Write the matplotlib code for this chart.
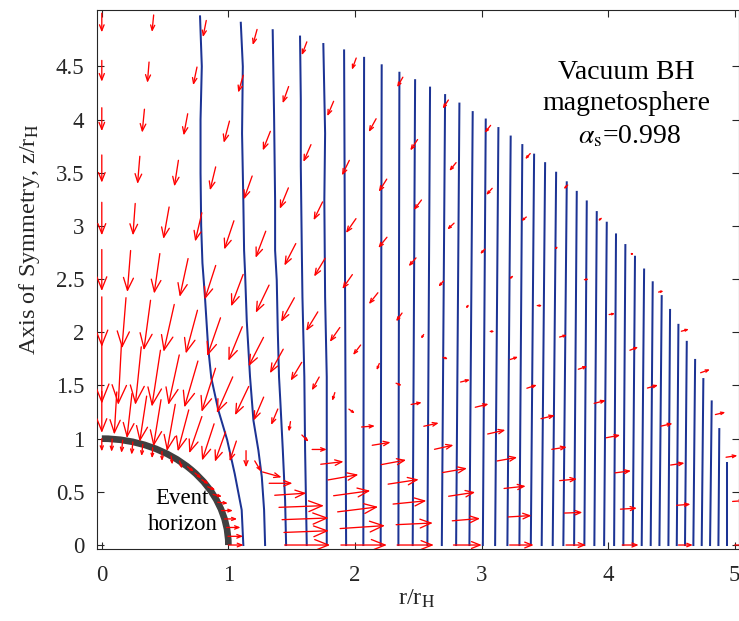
import numpy as np
import matplotlib
matplotlib.use("Agg")
import matplotlib.pyplot as plt
from matplotlib.patches import Arc, FancyArrowPatch

plt.rcParams["font.family"] = "Liberation Serif"
plt.rcParams["mathtext.fontset"] = "stix"

# ── Field lines close to the hole, traced as (r, z) points ───────────────────
near_lines = [
    [(0.776, 4.97), (0.79, 4.5), (0.78, 4.0), (0.78, 3.5), (0.785, 3.0), (0.795, 2.65),
     (0.815, 2.33), (0.84, 1.86), (0.865, 1.57), (0.92, 1.27), (0.99, 0.99),
     (1.05, 0.67), (1.105, 0.33), (1.118, 0.0)],
    [(1.098, 4.91), (1.114, 4.50), (1.108, 3.87), (1.118, 3.24), (1.124, 2.77),
     (1.132, 2.55), (1.145, 2.11), (1.171, 1.58), (1.198, 1.17), (1.237, 0.89),
     (1.264, 0.64), (1.282, 0.33), (1.29, 0.0)],
    [(1.35, 4.84), (1.361, 4.03), (1.369, 3.24), (1.369, 2.77), (1.382, 2.49),
     (1.39, 2.02), (1.40, 1.58), (1.41, 1.36), (1.43, 0.89), (1.448, 0.42), (1.456, 0.0)],
    [(1.566, 4.78), (1.572, 4.19), (1.572, 3.56), (1.58, 2.77), (1.585, 2.33),
     (1.60, 1.58), (1.606, 0.89), (1.619, 0.0)],
    [(1.75, 4.71), (1.764, 3.87), (1.758, 3.24), (1.764, 2.33), (1.777, 1.58), (1.777, 0.0)],
]

# ── Outer field lines: nearly straight, from the equator up to r = 5 ─────────
far_x_bottom = [1.93, 2.066, 2.203, 2.343, 2.456, 2.572, 2.686, 2.799, 2.904, 3.01,
                3.107, 3.204, 3.299, 3.389, 3.475, 3.562, 3.646, 3.731, 3.812, 3.891,
                3.968, 4.047, 4.12, 4.194, 4.265, 4.336, 4.405, 4.476, 4.542, 4.607,
                4.673, 4.739, 4.805, 4.871, 4.937]
far_x_top = [1.914, 2.072, 2.211, 2.351, 2.475, 2.593, 2.712, 2.825, 2.93, 3.033,
             3.133, 3.23, 3.322, 3.415, 3.502, 3.589, 3.673, 3.752, 3.831, 3.91,
             3.989, 4.062, 4.136, 4.212, 4.284, 4.352, 4.423, 4.489, 4.555, 4.621,
             4.687, 4.752, 4.818, 4.878, 4.937]
far_z_top = [4.65, 4.58, 4.51, 4.44, 4.37, 4.30, 4.23, 4.15, 4.07, 4.0,
             3.92, 3.84, 3.76, 3.67, 3.59, 3.50, 3.41, 3.32, 3.23, 3.13,
             3.03, 2.92, 2.82, 2.71, 2.59, 2.47, 2.34, 2.21, 2.07, 1.91,
             1.74, 1.56, 1.35, 1.09, 0.77]

# ── Electric field sample grid (radius, polar angle from the axis in deg) ────
R_levels = [1.0, 1.444, 1.889, 2.333, 2.778, 3.222, 3.667, 4.111, 4.556, 5.0]
theta_deg = [0, 4.7, 9.5, 14.2, 18.9, 23.7, 28.4, 33.2, 37.9, 42.6,
             47.4, 52.1, 56.8, 61.6, 66.3, 71.1, 75.8, 80.5, 85.3, 90]

# arrow components (dr, dz), one row per radius
arrow_u = [
    [0, -0.005, -0.01, -0.01, -0.01, -0.005, 0.0, 0.01, 0.02, 0.05,
     0.05, 0.055, 0.06, 0.07, 0.08, 0.09, 0.10, 0.11, 0.12, 0.12],
    [0, -0.02, -0.04, -0.055, -0.06, -0.066, -0.087, -0.10, -0.095, -0.084,
     -0.053, 0.0, 0.05, 0.15, 0.184, 0.25, 0.355, 0.368, 0.355, 0.36],
    [0, -0.025, -0.047, -0.068, -0.086, -0.107, -0.11, -0.126, -0.108, -0.079,
     -0.053, -0.013, 0.053, 0.116, 0.18, 0.24, 0.29, 0.32, 0.355, 0.363],
    [0, -0.032, -0.053, -0.084, -0.092, -0.105, -0.11, -0.118, -0.105, -0.087,
     -0.058, -0.021, 0.047, 0.105, 0.145, 0.197, 0.242, 0.263, 0.29, 0.29],
    [0, -0.026, -0.045, -0.066, -0.087, -0.095, -0.105, -0.105, -0.092, -0.079,
     -0.06, -0.021, 0.045, 0.084, 0.118, 0.15, 0.192, 0.21, 0.22, 0.224],
    [0, -0.018, -0.045, -0.053, -0.076, -0.08, -0.09, -0.087, -0.079, -0.071,
     -0.047, -0.021, 0.04, 0.074, 0.105, 0.14, 0.158, 0.171, 0.184, 0.19],
    [0, -0.018, -0.032, -0.045, -0.066, -0.068, -0.071, -0.079, -0.068, -0.058,
     -0.04, -0.018, 0.034, 0.063, 0.079, 0.11, 0.118, 0.137, 0.142, 0.158],
    [0, -0.018, -0.032, -0.045, -0.06, -0.06, -0.058, -0.063, -0.06, -0.053,
     -0.037, -0.026, 0.04, 0.058, 0.071, 0.092, 0.11, 0.126, 0.13, 0.13],
    [0, -0.013, -0.03, -0.04, -0.047, -0.05, -0.058, -0.058, -0.053, -0.047,
     -0.04, -0.02, 0.035, 0.047, 0.066, 0.084, 0.092, 0.11, 0.11, 0.113],
    [0, -0.013, -0.026, -0.034, -0.04, -0.034, -0.045, -0.045, -0.045, -0.04,
     -0.032, -0.026, 0.02, 0.04, 0.06, 0.074, 0.079, 0.09, 0.095, 0.10],
]
arrow_v = [
    [-0.12, -0.12, -0.12, -0.12, -0.11, -0.10, -0.09, -0.08, -0.07, -0.045,
     -0.05, -0.04, -0.03, -0.02, -0.01, 0.0, 0.0, 0.0, 0.0, 0.0],
    [-0.39, -0.40, -0.42, -0.43, -0.44, -0.44, -0.39, -0.345, -0.345, -0.28,
     -0.19, -0.157, -0.10, -0.05, 0.0, 0.02, 0.016, 0.016, 0.016, 0.0],
    [-0.56, -0.565, -0.545, -0.53, -0.47, -0.436, -0.41, -0.34, -0.27, -0.22,
     -0.15, -0.094, -0.063, 0.0, 0.025, 0.05, 0.047, 0.047, 0.028, 0.0],
    [-0.47, -0.476, -0.47, -0.445, -0.407, -0.36, -0.32, -0.272, -0.226, -0.172,
     -0.125, -0.078, -0.04, 0.01, 0.028, 0.044, 0.044, 0.031, 0.016, 0.0],
    [-0.39, -0.39, -0.376, -0.36, -0.32, -0.30, -0.26, -0.226, -0.18, -0.135,
     -0.094, -0.063, -0.022, 0.019, 0.031, 0.04, 0.04, 0.038, 0.022, 0.0],
    [-0.31, -0.30, -0.30, -0.27, -0.27, -0.25, -0.207, -0.172, -0.135, -0.107,
     -0.078, -0.04, -0.016, 0.022, 0.031, 0.038, 0.034, 0.022, 0.013, 0.0],
    [-0.26, -0.26, -0.245, -0.22, -0.22, -0.197, -0.172, -0.135, -0.10, -0.078,
     -0.053, -0.03, 0.0, 0.025, 0.031, 0.031, 0.022, 0.016, 0.006, 0.0],
    [-0.22, -0.22, -0.204, -0.204, -0.18, -0.163, -0.141, -0.119, -0.094, -0.06,
     -0.047, -0.025, 0.0, 0.019, 0.028, 0.028, 0.025, 0.019, 0.01, 0.0],
    [-0.20, -0.195, -0.17, -0.163, -0.157, -0.14, -0.125, -0.103, -0.078, -0.063,
     -0.038, -0.02, 0.005, 0.01, 0.031, 0.028, 0.025, 0.019, 0.01, 0.0],
    [-0.18, -0.16, -0.157, -0.147, -0.125, -0.11, -0.094, -0.081, -0.069, -0.053,
     -0.038, -0.025, 0.0, 0.01, 0.02, 0.031, 0.022, 0.016, 0.008, 0.0],
]

xtick_vals = [0, 1, 2, 3, 4, 5]
xtick_labels = ["0", "1", "2", "3", "4", "5"]
ytick_vals = [0, 0.5, 1, 1.5, 2, 2.5, 3, 3.5, 4, 4.5]
ytick_labels = ["0", "0.5", "1", "1.5", "2", "2.5", "3", "3.5", "4", "4.5"]

LINE_BLUE = "#1c3394"
AX_GREY = "#262626"

fig = plt.figure(figsize=(7.39, 6.21), dpi=100)
ax = fig.add_axes([0.1309, 0.1155, 0.869, 0.8684])
ax.set_xlim(-0.04, 5.033)
ax.set_ylim(-0.04, 5.03)

# field lines
for pts in near_lines:
    r, z = zip(*pts)
    ax.plot(r, z, color=LINE_BLUE, lw=1.45, zorder=2)
for xb, xt, zt in zip(far_x_bottom, far_x_top, far_z_top):
    ax.plot([xb, xt], [0.0, zt], color=LINE_BLUE, lw=1.45, zorder=2)

# event horizon
ax.add_patch(Arc((0, 0), 2, 2, theta1=0, theta2=90, color="#404040",
                 lw=4.8, zorder=3, capstyle="butt"))

# electric field arrows (open heads scaled with arrow length)
for k, R in enumerate(R_levels):
    for j, th in enumerate(theta_deg):
        x0 = R * np.sin(np.radians(th))
        z0 = R * np.cos(np.radians(th))
        u, v = arrow_u[k][j], arrow_v[k][j]
        p0, p1 = ax.transData.transform([(x0, z0), (x0 + u, z0 + v)])
        L = np.hypot(*(p1 - p0)) * 72 / fig.dpi
        if L < 0.5:
            continue
        style = f"->,head_length={0.30 * L:.3f},head_width={0.12 * L:.3f}"
        ax.add_patch(FancyArrowPatch((x0, z0), (x0 + u, z0 + v), arrowstyle=style,
                                     mutation_scale=1, color="red", lw=0.95,
                                     shrinkA=0, shrinkB=0, zorder=4))

# labels inside the axes
ax.text(0.63, 0.44, "Event", ha="center", va="center", fontsize=16.5, zorder=5)
ax.text(0.64, 0.19, "horizon", ha="center", va="center", fontsize=16.5, zorder=5)
ax.text(4.146, 4.44, "Vacuum BH", ha="center", va="center", fontsize=20, zorder=5)
ax.text(4.146, 4.15, "magnetosphere", ha="center", va="center", fontsize=20, zorder=5)
ax.text(4.17, 3.84, r"$\alpha_{\rm s}$=0.998", ha="center", va="center", fontsize=20, zorder=5)

# axes styling
ax.set_xticks(xtick_vals)
ax.set_xticklabels(xtick_labels)
ax.set_yticks(ytick_vals)
ax.set_yticklabels(ytick_labels)
ax.tick_params(direction="in", top=True, right=True, length=5, width=0.8,
               colors=AX_GREY, labelsize=16.5)
ax.tick_params(axis="x", pad=11)
ax.tick_params(axis="y", pad=9)
for s in ax.spines.values():
    s.set_color(AX_GREY)
    s.set_linewidth(0.8)

ax.set_xlabel(r"r/r$_{\rm H}$", fontsize=17.5, color=AX_GREY)
ax.set_ylabel(r"Axis of Symmetry, z/r$_{\rm H}$", fontsize=17.5, color=AX_GREY)
ax.xaxis.set_label_coords(0.4987, -0.072)
ax.yaxis.set_label_coords(-0.085, 0.575)

fig.savefig("out.png", dpi=100, facecolor="white")
